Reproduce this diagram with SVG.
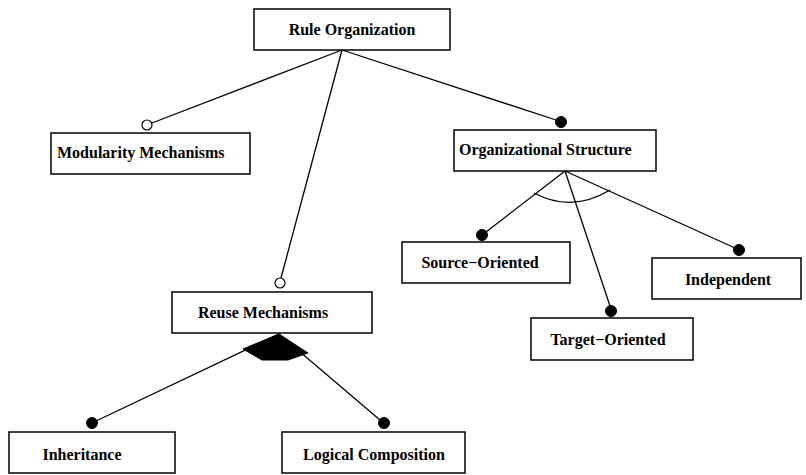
<svg xmlns="http://www.w3.org/2000/svg" width="806" height="475" viewBox="0 0 806 475">
  <style>
    .box { fill: #fff; stroke: #000; stroke-width: 1.5; }
    .lbl { font-family: "Liberation Serif", "Times New Roman", serif; font-weight: bold; font-size: 16px; fill: #000; }
    .c { text-anchor: middle; }
    .edge { stroke: #000; stroke-width: 1.3; fill: none; }
    .opt { fill: #fff; stroke: #000; stroke-width: 1.2; }
    .mand { fill: #000; stroke: #000; stroke-width: 1; }
  </style>
  <rect width="806" height="475" fill="#fff"/>

  <g id="connectors">
    <line class="edge" x1="342" y1="50" x2="152" y2="123"/>
    <line class="edge" x1="342" y1="50" x2="281" y2="278"/>
    <line class="edge" x1="342" y1="50" x2="556" y2="120"/>
    <line class="edge" x1="565" y1="171" x2="486" y2="232"/>
    <line class="edge" x1="565" y1="171" x2="610" y2="306"/>
    <line class="edge" x1="565" y1="171" x2="735" y2="248"/>
    <path class="edge" d="M534,193 Q572,213 610,190"/>
    <line class="edge" x1="279" y1="334" x2="96" y2="421"/>
    <line class="edge" x1="279" y1="334" x2="380" y2="420"/>
    <polygon fill="#000" stroke="#000" stroke-width="1" points="279,334 243,349 262,360 288,360 308,353"/>
    <circle class="opt" cx="147" cy="125" r="5"/>
    <circle class="opt" cx="280" cy="283" r="5"/>
    <circle class="mand" cx="561" cy="122" r="5.5"/>
    <circle class="mand" cx="482" cy="235" r="5.5"/>
    <circle class="mand" cx="611" cy="311" r="5.5"/>
    <circle class="mand" cx="739" cy="250" r="5.5"/>
    <circle class="mand" cx="92" cy="423" r="5.5"/>
    <circle class="mand" cx="384" cy="423" r="5.5"/>
  </g>

  <g id="rule-organization">
    <rect class="box" x="254" y="9" width="196" height="41"/>
    <text class="lbl c" x="352" y="35">Rule Organization</text>
  </g>
  <g id="modularity-mechanisms">
    <rect class="box" x="51" y="133" width="199" height="41"/>
    <text class="lbl" x="57" y="158">Modularity Mechanisms</text>
  </g>
  <g id="organizational-structure">
    <rect class="box" x="454" y="130" width="202" height="41"/>
    <text class="lbl" x="459" y="155">Organizational Structure</text>
  </g>
  <g id="reuse-mechanisms">
    <rect class="box" x="172" y="292" width="200" height="41"/>
    <text class="lbl c" x="263" y="318">Reuse Mechanisms</text>
  </g>
  <g id="source-oriented">
    <rect class="box" x="402" y="242" width="168" height="41"/>
    <text class="lbl c" x="480" y="268">Source−Oriented</text>
  </g>
  <g id="target-oriented">
    <rect class="box" x="531" y="318" width="162" height="42"/>
    <text class="lbl c" x="608" y="345">Target−Oriented</text>
  </g>
  <g id="independent">
    <rect class="box" x="652" y="258" width="149" height="41"/>
    <text class="lbl c" x="728" y="285">Independent</text>
  </g>
  <g id="inheritance">
    <rect class="box" x="9" y="432" width="166" height="41"/>
    <text class="lbl c" x="82" y="460">Inheritance</text>
  </g>
  <g id="logical-composition">
    <rect class="box" x="282" y="432" width="183" height="41"/>
    <text class="lbl c" x="374" y="460">Logical Composition</text>
  </g>
</svg>
